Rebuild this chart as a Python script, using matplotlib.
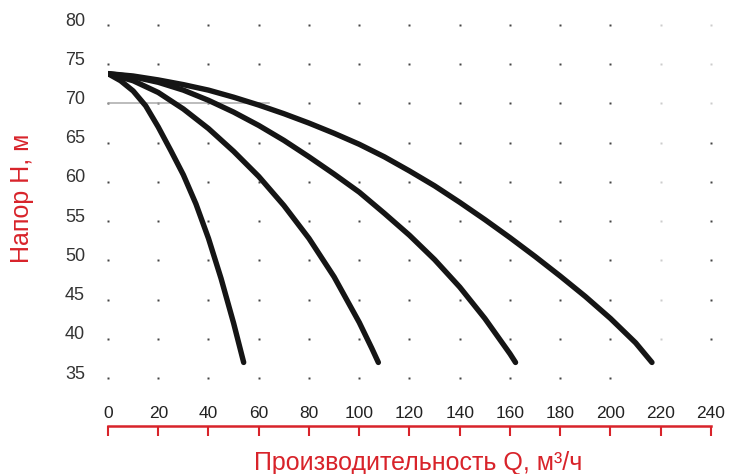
import numpy as np
import matplotlib
matplotlib.use('Agg')
import matplotlib.pyplot as plt
from matplotlib.transforms import ScaledTranslation

plt.rcParams['font.family'] = ['Liberation Sans', 'DejaVu Sans']

# pump curves: Q (m3/h) and H (m)
q1 = [0, 5, 10, 15, 20, 25, 30, 35, 40, 45, 50, 54]
h1 = [73.8, 72.9, 71.6, 69.7, 67.0, 64.0, 60.9, 57.2, 52.8, 47.7, 42.0, 37.0]

q2 = [0, 10, 20, 30, 40, 50, 60, 70, 80, 90, 100, 105, 107.6]
h2 = [73.8, 72.9, 71.4, 69.3, 66.8, 63.9, 60.7, 57.0, 52.8, 47.9, 42.1, 38.8, 37.0]

q3 = [0, 10, 20, 30, 40, 50, 60, 70, 80, 90, 100, 110, 120, 130, 140, 150, 160, 162.2]
h3 = [73.8, 73.4, 72.7, 71.7, 70.4, 68.9, 67.2, 65.3, 63.2, 61.0, 58.7, 56.0, 53.2,
      50.1, 46.6, 42.6, 38.1, 37.0]

q4 = [0, 10, 20, 30, 40, 50, 60, 70, 80, 90, 100, 110, 120, 130, 140, 150, 160,
      170, 180, 190, 200, 210, 216.5]
h4 = [73.8, 73.5, 73.0, 72.4, 71.7, 70.8, 69.8, 68.7, 67.5, 66.2, 64.8, 63.2, 61.4,
      59.5, 57.4, 55.2, 52.9, 50.5, 48.0, 45.4, 42.6, 39.5, 37.0]

x_ticks = list(range(0, 241, 20))
y_ticks = list(range(35, 81, 5))

red = '#d8232a'

fig = plt.figure(figsize=(7.32, 4.74), dpi=100)
ax = fig.add_axes([108 / 732, 48 / 474, 603 / 732, 401 / 474])
ax.set_xlim(0, 240)
ax.set_ylim(28.9, 80)

# dotted grid
for q in x_ticks:
    for h in y_ticks:
        if h == 35 and q >= 220:
            continue
        c = '#444444'
        if q == 220 or (q == 240 and h >= 70):
            c = '#cccccc'
        ax.plot(q, h, 's', ms=1.6, color=c, mec='none', clip_on=False)

# faint grey guide at 70 m
ax.plot([0, 64], [70, 70], color='#aaaaaa', lw=1.1)

for q, h in [(q1, h1), (q2, h2), (q3, h3), (q4, h4)]:
    ax.plot(q, h, color='#151515', lw=3.9, solid_capstyle='round',
            solid_joinstyle='round')

for s in ['left', 'right', 'bottom']:
    ax.spines[s].set_visible(False)
ax.spines['top'].set_position(('axes', 0))
ax.spines['top'].set_color(red)
ax.spines['top'].set_linewidth(1.8)

ax.xaxis.tick_top()
ax.set_xticks(x_ticks)
ax.tick_params(axis='x', direction='in', length=7.2, width=1.5, color=red,
               labelsize=12.5, labelcolor='#222222', pad=3.5)

ax.set_yticks(y_ticks)
ax.tick_params(axis='y', length=0, labelsize=13, labelcolor='#333333', pad=16.5)
for lab in ax.get_yticklabels():
    lab.set_transform(lab.get_transform() + ScaledTranslation(0, 0.06, fig.dpi_scale_trans))

fig.text(22 / 732, 1 - 198 / 474, 'Напор H, м', rotation=90, color=red,
         fontsize=18, ha='center', va='center')
fig.text(418 / 732, 1 - 463 / 474, 'Производительность Q, м³/ч', color=red,
         fontsize=18, ha='center', va='center')

fig.savefig('out.png', dpi=100)
